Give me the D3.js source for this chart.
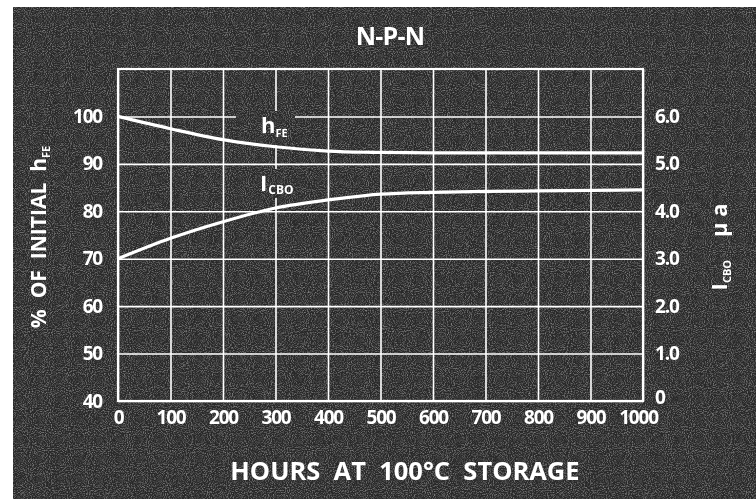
<!DOCTYPE html>
<html>
<head>
<meta charset="utf-8">
<script src="https://cdn.jsdelivr.net/npm/d3@7"></script>
<style>
  html, body { margin: 0; padding: 0; background: #fff; }
  svg { display: block; }
  text { fill: #fff; font-family: "Open Sans", "DejaVu Sans", sans-serif; font-weight: 700; }
</style>
</head>
<body>
<svg id="chart" width="756" height="499"></svg>
<script>
// ---- data ----
const hours = [0, 100, 200, 300, 400, 500, 600, 700, 800, 900, 1000];
const hfePct = [100, 97.4, 95.1, 93.6, 92.7, 92.4, 92.3, 92.3, 92.3, 92.3, 92.3];
const icboMicroA = [3.0, 3.43, 3.78, 4.07, 4.24, 4.36, 4.40, 4.42, 4.43, 4.44, 4.45];
const xTicks = [0, 100, 200, 300, 400, 500, 600, 700, 800, 900, 1000];
const leftTicks = [40, 50, 60, 70, 80, 90, 100];
const rightTicks = [0, 1, 2, 3, 4, 5, 6];
const rightTickLabels = ["0", "1.0", "2.0", "3.0", "4.0", "5.0", "6.0"];
const titleText = "N-P-N";
const xTitle = "HOURS  AT  100°C  STORAGE";

// ---- layout ----
const W = 756, H = 499;
const m = { left: 118, right: 113, top: 69, bottom: 98 };
const iw = W - m.left - m.right, ih = H - m.top - m.bottom;

const svg = d3.select("#chart");
const defs = svg.append("defs");
const f = defs.append("filter").attr("id", "noise").attr("filterUnits", "userSpaceOnUse")
  .attr("x", 0).attr("y", 0).attr("width", W).attr("height", H);
f.append("feTurbulence").attr("type", "fractalNoise").attr("baseFrequency", 0.95).attr("numOctaves", 2).attr("seed", 7).attr("result", "t");
f.append("feColorMatrix").attr("in", "t").attr("type", "matrix")
  .attr("values", "0 0 0 0 1  0 0 0 0 1  0 0 0 0 1  0 0 0 2.4 -1.0");

// background panel
svg.append("rect").attr("x", 13).attr("y", 7).attr("width", W - 13).attr("height", H - 7).attr("fill", "#282828");
svg.append("rect").attr("x", 13).attr("y", 7).attr("width", W - 13).attr("height", H - 7).attr("fill", "#fff")
  .attr("filter", "url(#noise)").attr("opacity", 0.4);

const x = d3.scaleLinear().domain([0, 1000]).range([m.left, m.left + iw]);
const yL = d3.scaleLinear().domain([40, 110]).range([m.top + ih, m.top]);
const yR = d3.scaleLinear().domain([0, 7]).range([m.top + ih, m.top]);

// mask that breaks grid lines behind the curve labels
const mask = defs.append("mask").attr("id", "gridGap").attr("maskUnits", "userSpaceOnUse")
  .attr("x", 0).attr("y", 0).attr("width", W).attr("height", H);
mask.append("rect").attr("x", 0).attr("y", 0).attr("width", W).attr("height", H).attr("fill", "#fff");
mask.append("rect").attr("x", 236).attr("y", 111).attr("width", 59).attr("height", 34).attr("fill", "#000");
mask.append("rect").attr("x", 255).attr("y", 169).attr("width", 40).attr("height", 29).attr("fill", "#000");

// grid
const grid = svg.append("g").attr("mask", "url(#gridGap)");
grid.append("g").attr("transform", `translate(0,${m.top + ih})`)
  .call(d3.axisBottom(x).tickValues(xTicks).tickSize(-ih).tickFormat(""))
  .call(g => g.select(".domain").remove())
  .call(g => g.selectAll("line").attr("stroke", "#fff").attr("stroke-width", 1.6));
grid.append("g").attr("transform", `translate(${m.left},0)`)
  .call(d3.axisLeft(yL).tickValues(leftTicks).tickSize(-iw).tickFormat(""))
  .call(g => g.select(".domain").remove())
  .call(g => g.selectAll("line").attr("stroke", "#fff").attr("stroke-width", 1.6));
svg.append("rect").attr("x", m.left).attr("y", m.top).attr("width", iw).attr("height", ih)
  .attr("fill", "none").attr("stroke", "#fff").attr("stroke-width", 2.2);

// curves
const lineH = d3.line().x((d, i) => x(hours[i])).y(d => yL(d)).curve(d3.curveMonotoneX);
const lineI = d3.line().x((d, i) => x(hours[i])).y(d => yR(d)).curve(d3.curveMonotoneX);
svg.append("path").datum(hfePct).attr("d", lineH).attr("fill", "none").attr("stroke", "#fff").attr("stroke-width", 3.2);
svg.append("path").datum(icboMicroA).attr("d", lineI).attr("fill", "none").attr("stroke", "#fff").attr("stroke-width", 3.2);

// curve labels
const hl = svg.append("text").attr("x", 261).attr("y", 133).attr("font-size", 22);
hl.append("tspan").text("h");
hl.append("tspan").attr("font-size", 11).attr("dy", 4).text("FE");
const il = svg.append("text").attr("x", 260).attr("y", 191).attr("font-size", 22);
il.append("tspan").text("I");
il.append("tspan").attr("font-size", 12).attr("dy", 3).attr("dx", 1).text("CBO");

// axes tick labels
const tickStyle = g => {
  g.select(".domain").remove();
  g.selectAll("line").remove();
  g.selectAll("text").attr("fill", "#fff").attr("font-size", 19)
    .attr("font-family", "'Open Sans', sans-serif").attr("font-weight", 700).attr("letter-spacing", -1.2);
};
svg.append("g").attr("transform", `translate(${m.left},0)`)
  .call(d3.axisLeft(yL).tickValues(leftTicks).tickSize(0).tickPadding(16).tickFormat(d3.format("d")))
  .call(tickStyle);
svg.append("g").attr("transform", `translate(${m.left + iw},0)`)
  .call(d3.axisRight(yR).tickValues(rightTicks).tickSize(0).tickPadding(12).tickFormat((d, i) => rightTickLabels[i]))
  .call(tickStyle)
  .call(g => g.selectAll("text").filter(d => d === 0).attr("dy", "0.15em"));
svg.append("g").attr("transform", `translate(0,${m.top + ih})`)
  .call(d3.axisBottom(x).tickValues(xTicks).tickSize(0).tickPadding(10).tickFormat(d3.format("d")))
  .call(tickStyle)
  .call(g => g.selectAll("text").filter(d => d === 1000).attr("dx", -5));

// titles
svg.append("text").attr("x", 390).attr("y", 45).attr("text-anchor", "middle").attr("font-size", 25)
  .attr("letter-spacing", -0.8).text(titleText);
svg.append("text").attr("x", 405).attr("y", 480).attr("text-anchor", "middle").attr("font-size", 25.5)
  .style("white-space", "pre").text(xTitle);

const lt = svg.append("text").attr("transform", "translate(46,237) rotate(-90)").attr("text-anchor", "middle")
  .attr("font-size", 21).style("white-space", "pre");
lt.append("tspan").text("%  OF  INITIAL  h");
lt.append("tspan").attr("font-size", 11).attr("dy", 4).text("FE");

const rt = svg.append("text").attr("transform", "translate(727,247) rotate(-90)").attr("text-anchor", "middle")
  .attr("font-size", 22).style("white-space", "pre");
rt.append("tspan").text("I");
rt.append("tspan").attr("font-size", 11).attr("dy", 4).text("CBO");
rt.append("tspan").attr("dy", -4).text("    μ a");
</script>
</body>
</html>
